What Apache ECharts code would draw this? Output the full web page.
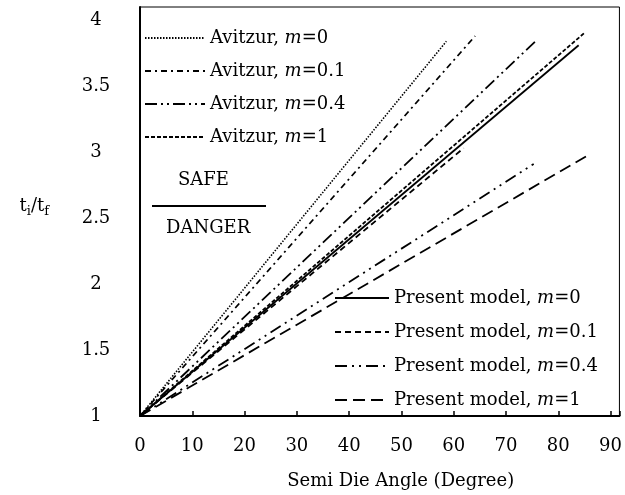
<!DOCTYPE html>
<html>
<head>
<meta charset="utf-8">
<script src="https://cdn.jsdelivr.net/npm/echarts@6/dist/echarts.min.js"></script>
<style>
    html, body {margin: 0; padding: 0; background: #fff;}
    #chart {width: 625px; height: 495px;}
</style>
</head>
<body>
<div id="chart"></div>
<script>
// 曲线数据: [半模角, ti/tf]
var avitzurM0 = [[0, 1], [58.6, 3.84]];
var avitzurM01 = [[0, 1], [64.1, 3.88]];
var avitzurM04 = [[0, 1], [75.9, 3.85]];
var avitzurM1 = [[0, 1], [84.9, 3.90]];
var presentM0 = [[0, 1], [83.9, 3.81]];
var presentM01 = [[0, 1], [61.9, 3.03]];
var presentM04 = [[0, 1], [75.3, 2.91]];
var presentM1 = [[0, 1], [85.4, 2.97]];

var avitzurNames = ['Avitzur, m=0', 'Avitzur, m=0.1', 'Avitzur, m=0.4', 'Avitzur, m=1'];
var presentNames = ['Present model, m=0', 'Present model, m=0.1', 'Present model, m=0.4', 'Present model, m=1'];

var FONT = 'DejaVu Serif';

var chart = echarts.init(document.getElementById('chart'));

function lineSeries(name, data, dash, width) {
    return {
        name: name,
        type: 'line',
        data: data,
        symbol: 'none',
        silent: true,
        itemStyle: {color: '#000'},
        lineStyle: {color: '#000', width: width || 1.8, type: dash}
    };
}

var legendText = {
    fontFamily: FONT,
    fontSize: 18,
    color: '#000',
    lineHeight: 20,
    rich: {i: {fontFamily: FONT, fontSize: 18, fontStyle: 'italic', color: '#000', lineHeight: 20}}
};

function legendFormatter(name) {
    return name.replace('m=', '{i|m}=');
}

var option = {
    animation: false,
    backgroundColor: '#fff',
    grid: {
        left: 140, right: 0, top: 7, bottom: 74,
        show: true, borderColor: '#000', borderWidth: 1
    },
    legend: [{
        data: avitzurNames,
        orient: 'vertical',
        left: 139, top: 23,
        itemWidth: 60, itemHeight: 14, itemGap: 13,
        itemStyle: {opacity: 0},
        formatter: legendFormatter,
        textStyle: legendText
    }, {
        data: presentNames,
        orient: 'vertical',
        left: 329, top: 283,
        itemWidth: 54, itemHeight: 14, itemGap: 14,
        itemStyle: {opacity: 0},
        formatter: legendFormatter,
        textStyle: legendText
    }],
    xAxis: {
        type: 'value',
        min: 0, max: 91.7, interval: 10,
        name: 'Semi Die Angle (Degree)',
        nameLocation: 'middle',
        nameGap: 56,
        nameTextStyle: {fontFamily: FONT, fontSize: 18, color: '#000', padding: [0, 0, 0, 42]},
        axisLine: {lineStyle: {color: '#000', width: 2}},
        axisTick: {show: true, inside: true, length: 5, lineStyle: {color: '#000', width: 1.5}},
        axisLabel: {
            fontFamily: FONT, fontSize: 18, color: '#000', margin: 21,
            formatter: function (v) { return v % 10 === 0 ? String(v) : ''; }
        },
        splitLine: {show: false}
    },
    yAxis: {
        type: 'value',
        min: 1, max: 4.1, interval: 0.5,
        name: 't{s|i}/t{s|f}',
        nameLocation: 'middle',
        nameRotate: 0,
        nameGap: 91,
        nameTextStyle: {
            fontFamily: FONT, fontSize: 18, color: '#000', align: 'right', padding: [0, 0, 10, 0],
            rich: {s: {fontFamily: FONT, fontSize: 13, color: '#000', padding: [10, 0, 0, 0]}}
        },
        axisLine: {show: true, lineStyle: {color: '#000', width: 2}},
        axisTick: {show: false},
        axisLabel: {
            fontFamily: FONT, fontSize: 18, color: '#000', margin: 44, align: 'center',
            formatter: function (v) { return v <= 4 ? String(v) : ''; }
        },
        splitLine: {show: false}
    },
    graphic: [
        {type: 'text', left: 178, top: 171, style: {text: 'SAFE', fontFamily: FONT, fontSize: 18, fill: '#000'}},
        {type: 'line', shape: {x1: 152, y1: 206, x2: 266, y2: 206}, style: {stroke: '#000', lineWidth: 2}},
        {type: 'text', left: 166, top: 219, style: {text: 'DANGER', fontFamily: FONT, fontSize: 18, fill: '#000'}}
    ],
    series: [
        lineSeries(avitzurNames[0], avitzurM0, [1.5, 1.5], 1.6),
        lineSeries(avitzurNames[1], avitzurM01, [6, 4, 2, 4]),
        lineSeries(avitzurNames[2], avitzurM04, [12, 4, 2, 4, 2, 4]),
        lineSeries(avitzurNames[3], avitzurM1, [4, 2]),
        lineSeries(presentNames[0], presentM0, 'solid'),
        lineSeries(presentNames[1], presentM01, [6, 4]),
        lineSeries(presentNames[2], presentM04, [12, 5, 2, 5, 2, 5]),
        lineSeries(presentNames[3], presentM1, [12, 6])
    ]
};
chart.setOption(option);
</script>
</body>
</html>
